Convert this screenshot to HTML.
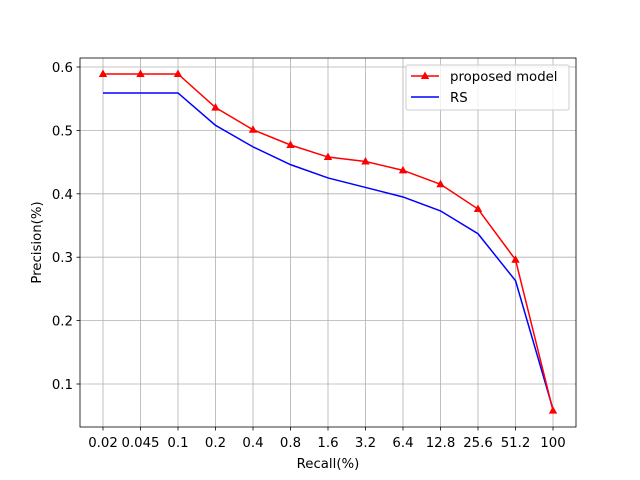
<!DOCTYPE html>
<html><head><meta charset="utf-8"><style>body{margin:0;background:#fff}svg{display:block}text{font-family:"DejaVu Sans","Liberation Sans",sans-serif;font-size:13.3px;fill:#000}</style></head>
<body>
<svg id="c" width="640" height="480"></svg>
<script>
const categories=["0.02","0.045","0.1","0.2","0.4","0.8","1.6","3.2","6.4","12.8","25.6","51.2","100"];
const proposedValues=[0.589,0.589,0.589,0.536,0.501,0.477,0.458,0.451,0.437,0.415,0.376,0.296,0.058];
const rsValues=[0.559,0.559,0.559,0.508,0.474,0.446,0.425,0.410,0.395,0.373,0.337,0.263,0.060];
const yTicks=[0.1,0.2,0.3,0.4,0.5,0.6];
const L=80,R=576,T=58,B=427;
const xs=i=>103+i*(553-103)/(categories.length-1);
const ys=v=>67+(0.6-v)*634;
const svg=document.getElementById('c');const NS='http://www.w3.org/2000/svg';
function mk(t,a,p){const e=document.createElementNS(NS,t);for(const k in a)e.setAttribute(k,a[k]);(p||svg).appendChild(e);return e;}
categories.forEach((c,i)=>{const x=xs(i);
let g=mk('line',{x1:x,x2:x,y1:T,y2:B,stroke:'#b0b0b0','stroke-width':0.8});

mk('line',{x1:x,x2:x,y1:B,y2:B+3.5,stroke:'#000','stroke-width':0.8});
let t=mk('text',{x:x,y:B+20,'text-anchor':'middle'});t.textContent=c;
});
yTicks.forEach(v=>{const y=ys(v);
let g=mk('line',{x1:L,x2:R,y1:y,y2:y,stroke:'#b0b0b0','stroke-width':0.8});

mk('line',{x1:L-3.5,x2:L,y1:y,y2:y,stroke:'#000','stroke-width':0.8});
let t=mk('text',{x:L-7,y:y+5,'text-anchor':'end'});t.textContent=v.toFixed(1);
});
let fr=mk('rect',{x:L,y:T,width:R-L,height:B-T,fill:'none',stroke:'#000','stroke-width':0.8});

let rs=mk('polyline',{points:rsValues.map((v,i)=>xs(i)+','+ys(v)).join(' '),fill:'none',stroke:'#0000ff','stroke-width':1.5});

let pl=mk('polyline',{points:proposedValues.map((v,i)=>xs(i)+','+ys(v)).join(' '),fill:'none',stroke:'#ff0000','stroke-width':1.5});

function tri(x,y){return `${x},${y-4.5} ${x-4.2},${y+3} ${x+4.2},${y+3}`;}
proposedValues.forEach((v,i)=>{let m=mk('polygon',{points:tri(xs(i),ys(v)),fill:'#ff0000'});
});
let xt=mk('text',{x:(L+R)/2,y:468,'text-anchor':'middle'});xt.textContent='Recall(%)';

let yt=mk('text',{x:41,y:(T+B)/2,'text-anchor':'middle',transform:`rotate(-90 41 ${(T+B)/2})`});yt.textContent='Precision(%)';

const lg=mk('g',{});
mk('rect',{x:406,y:65,width:163,height:45,rx:2,fill:'#fff','fill-opacity':0.8,stroke:'#cccccc'},lg);
let e1=mk('g',{},lg);
mk('line',{x1:411,x2:439,y1:76,y2:76,stroke:'#ff0000','stroke-width':1.5},e1);
mk('polygon',{points:tri(425,76),fill:'#ff0000'},e1);
let t1=mk('text',{x:450,y:81},e1);t1.textContent='proposed model';
let e2=mk('g',{},lg);
mk('line',{x1:411,x2:439,y1:97,y2:97,stroke:'#0000ff','stroke-width':1.5},e2);
let t2=mk('text',{x:450,y:102},e2);t2.textContent='RS';
</script>
</body></html>
